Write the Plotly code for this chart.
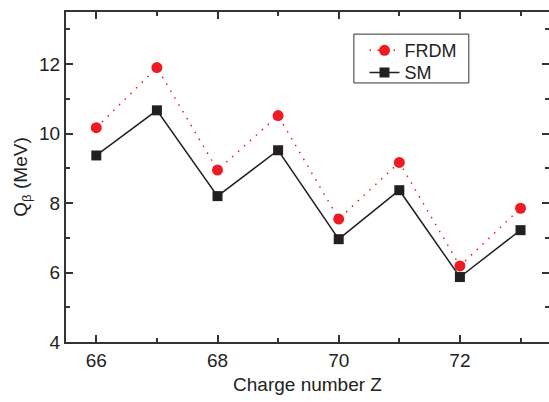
import plotly.graph_objects as go

# Charge number Z and beta-decay Q values (MeV)
charge_z = [66, 67, 68, 69, 70, 71, 72, 73]
q_frdm = [10.17, 11.90, 8.95, 10.52, 7.54, 9.17, 6.19, 7.85]
q_sm = [9.37, 10.67, 8.20, 9.52, 6.96, 8.37, 5.87, 7.22]

x_ticks = [66, 68, 70, 72]
y_ticks = [4, 6, 8, 10, 12]

FONT = "Liberation Sans, Arial, sans-serif"
RED = "#ED1C24"
BLACK = "#231F20"

fig = go.Figure()
fig.add_trace(go.Scatter(
    x=charge_z, y=q_frdm, name="FRDM", mode="lines+markers", legend="legend",
    line=dict(color=RED, width=1.5, dash="1.5px,6.5px"),
    marker=dict(symbol="circle", size=11, color=RED),
))
fig.add_trace(go.Scatter(
    x=charge_z, y=q_sm, name="SM", mode="lines+markers", legend="legend2",
    line=dict(color=BLACK, width=1.5),
    marker=dict(symbol="square", size=10, color=BLACK),
))

axis_common = dict(
    ticks="inside", ticklen=7, tickwidth=1.5, tickcolor="#333",
    showgrid=False, zeroline=False,
    tickfont=dict(family=FONT, size=19, color="#222"),
)

legend_common = dict(
    xanchor="left", yanchor="middle", bgcolor="rgba(0,0,0,0)", borderwidth=0,
    font=dict(family=FONT, size=18, color="#222"), itemwidth=30,
)

fig.update_layout(
    width=549, height=402,
    margin=dict(l=66, r=0, t=12, b=60),
    paper_bgcolor="white", plot_bgcolor="white",
    font=dict(family=FONT, color="#222"),
    showlegend=True,
    legend=dict(x=0.618, y=0.883, **legend_common),
    legend2=dict(x=0.618, y=0.816, **legend_common),
    # frame around the two legend rows
    shapes=[dict(type="rect", xref="paper", yref="paper",
                 x0=0.596, x1=0.834, y0=0.785, y1=0.933,
                 line=dict(color="#333", width=1), fillcolor="white", layer="below")],
    xaxis=dict(
        range=[65.5, 73.47], tickvals=x_ticks,
        showline=True, linecolor="#333", linewidth=2, mirror="ticks",
        minor=dict(dtick=1, tick0=65, ticks="inside", ticklen=4, tickwidth=1.5, tickcolor="#333"),
        title=dict(text="Charge number Z", font=dict(family=FONT, size=19, color="#222"), standoff=8),
        **axis_common,
    ),
    yaxis=dict(
        range=[4, 13.5], tickvals=y_ticks,
        showline=True, linecolor="#333", linewidth=2, mirror=False,
        minor=dict(dtick=1, tick0=5, ticks="inside", ticklen=4, tickwidth=1.5, tickcolor="#333"),
        title=dict(text="Q<sub>β</sub> (MeV)", font=dict(family=FONT, size=19, color="#222"), standoff=6),
        **axis_common,
    ),
    # right-hand ticks without a visible frame line at the page edge
    yaxis2=dict(
        overlaying="y", side="right", matches="y", range=[4, 13.5],
        tickvals=y_ticks, showticklabels=False, showline=False,
        ticks="inside", ticklen=7, tickwidth=1.5, tickcolor="#333",
        minor=dict(dtick=1, tick0=5, ticks="inside", ticklen=4, tickwidth=1.5, tickcolor="#333"),
        showgrid=False, zeroline=False,
    ),
)
# an invisible trace anchors the right-hand axis
fig.add_trace(go.Scatter(x=[charge_z[0]], y=[q_sm[0]], yaxis="y2", mode="markers",
                         marker=dict(opacity=0), showlegend=False, hoverinfo="skip"))

fig.write_html("out.html")
